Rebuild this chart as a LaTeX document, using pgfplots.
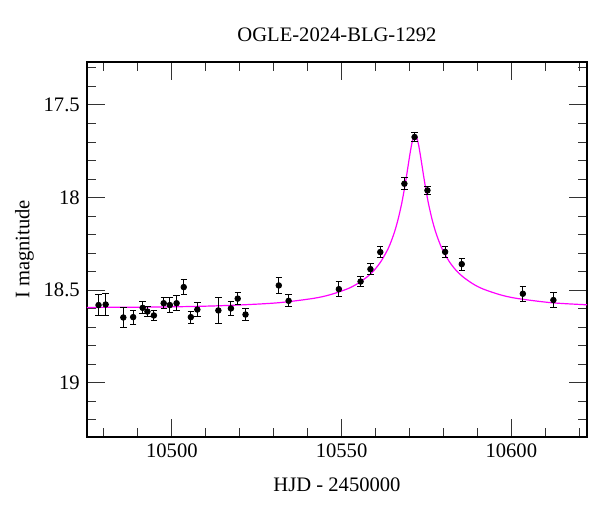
\documentclass[border=0pt]{standalone}
\usepackage{fontspec}
\setmainfont{Liberation Serif}
\usepackage{pgfplots}
\pgfplotsset{compat=1.18}
\definecolor{modelpink}{RGB}{255,0,255}

\begin{document}
\begin{tikzpicture}
\fontsize{10.3}{12}\selectfont
\begin{axis}[
  scale only axis,
  width=250pt, height=187.5pt,
  xmin=10475, xmax=10622.3,
  ymin=17.268, ymax=19.292,
  y dir=reverse,
  xtick={10500,10550,10600},
  xticklabels={10500,10550,10600},
  scaled x ticks=false,
  minor xtick={10480,10490,10510,10520,10530,10540,10560,10570,10580,10590,10610,10620},
  ytick={17.5,18,18.5,19},
  yticklabels={17.5,18,18.5,19},
  minor ytick={17.3,17.4,17.6,17.7,17.8,17.9,18.1,18.2,18.3,18.4,18.6,18.7,18.8,18.9,19.1,19.2},
  /pgf/number format/assume math mode=true,
  tick align=inside,
  major tick length=9pt,
  minor tick length=4.5pt,
  every tick/.style={black!80, line width=0.5pt},
  axis line style={line width=0.6pt},
  xlabel={HJD - 2450000},
  ylabel={I magnitude},
  title={OGLE-2024-BLG-1292},
  xlabel style={at={(axis description cs:0.5,-0.128)}, anchor=center},
  ylabel style={at={(axis description cs:-0.125,0.5)}, anchor=center, rotate=0},
  every axis title shift=0pt,
  title style={at={(axis description cs:0.5,1.072)}, anchor=center, yshift=0pt},
  clip=true,
]
% model light curve
\addplot[modelpink, line width=0.6pt, smooth] coordinates {
(10474.65,18.593) (10491.65,18.591) (10501.65,18.589) (10511.65,18.585)
(10521.65,18.578) (10531.65,18.567) (10541.65,18.544) (10546.65,18.524)
(10551.65,18.493) (10554.65,18.465) (10557.65,18.426) (10559.65,18.391)
(10561.65,18.343) (10563.65,18.278) (10564.65,18.234) (10565.65,18.182)
(10566.65,18.117) (10567.65,18.037) (10568.15,17.989) (10568.65,17.937)
(10569.15,17.881) (10569.65,17.822) (10570.15,17.764) (10570.65,17.712)
(10571.15,17.676) (10571.65,17.663) (10572.15,17.676) (10572.65,17.712)
(10573.15,17.764) (10573.65,17.822) (10574.15,17.881) (10574.65,17.937)
(10575.15,17.989) (10575.65,18.037) (10576.65,18.117) (10577.65,18.182)
(10578.65,18.234) (10579.65,18.278) (10581.65,18.343) (10583.65,18.391)
(10585.65,18.426) (10588.65,18.465) (10591.65,18.493) (10596.65,18.524)
(10601.65,18.544) (10611.65,18.567) (10621.65,18.578) (10623.0,18.579)
};
% OGLE photometry
\addplot[black, only marks, mark=*, mark size=1.4pt,
  error bars/.cd, y dir=both, y explicit,
  error bar style={line width=0.5pt},
  error mark options={rotate=90, mark size=1.6pt, line width=0.5pt}]
  table[x=t, y=m, y error=e] {
t        m       e
10478.4  18.580  0.057
10480.5  18.577  0.060
10485.7  18.647  0.054
10488.6  18.645  0.038
10491.4  18.595  0.033
10492.8  18.615  0.025
10494.7  18.636  0.029
10497.6  18.570  0.030
10499.4  18.580  0.042
10501.4  18.570  0.041
10503.5  18.483  0.040
10505.6  18.645  0.032
10507.5  18.604  0.039
10513.7  18.609  0.068
10517.4  18.598  0.037
10519.4  18.545  0.032
10521.7  18.631  0.032
10531.5  18.474  0.042
10534.4  18.557  0.032
10549.2  18.494  0.040
10555.6  18.453  0.025
10558.5  18.386  0.028
10561.4  18.294  0.029
10568.5  17.925  0.032
10571.5  17.673  0.024
10575.3  17.961  0.023
10580.5  18.293  0.030
10585.4  18.359  0.032
10603.4  18.519  0.040
10612.4  18.553  0.040
};
\end{axis}
\path[use as bounding box] (-43.5pt,-37.5pt) rectangle (256.5pt,218.5pt);
\end{tikzpicture}
\end{document}
